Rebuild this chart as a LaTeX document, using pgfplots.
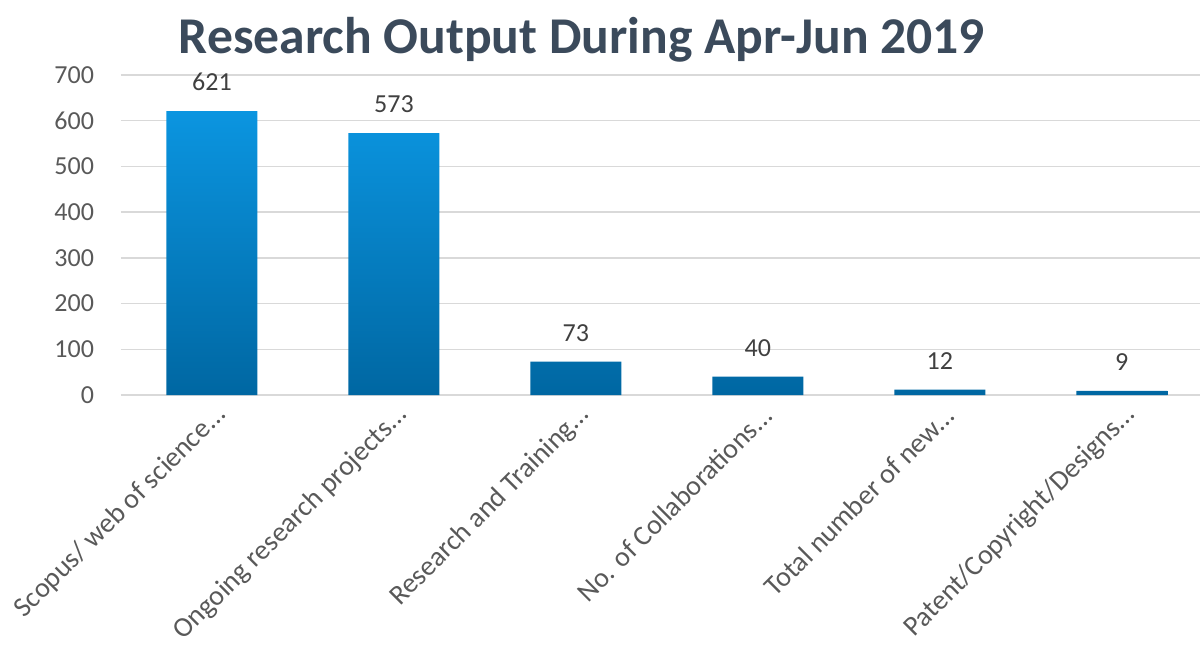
\documentclass[border=0pt]{standalone}
\usepackage{pgfplots}
\pgfplotsset{compat=1.18}
\usepackage{fontspec}
\setmainfont{Carlito}
\definecolor{titlec}{HTML}{3B4A5B}
\definecolor{txt}{HTML}{595959}
\definecolor{lbl}{HTML}{404040}
\definecolor{gridc}{HTML}{D9D9D9}
\definecolor{bartop}{HTML}{0B95E0}
\definecolor{barbot}{HTML}{0067A2}
\newcommand{\dd}{.\kern0pt.\kern0pt.}
\begin{document}
\begin{tikzpicture}
\useasboundingbox (0pt,0pt) rectangle (600pt,-326pt);
\begin{axis}[
  at={(60.5pt,-197.5pt)}, anchor=south west,
  scale only axis, width=539.5pt, height=160pt,
  xmin=-0.5, xmax=5.43, ymin=0, ymax=700,
  ytick={0,100,...,700},
  xtick={0,1,2,3,4,5},
  xticklabels={{Scopus/ web of science\dd}, {Ongoing research projects\dd}, {Research and Training\dd}, {No. of Collaborations\dd}, {Total number of new\dd}, {Patent/Copyright/Designs\dd}},
  ymajorgrids, grid style={gridc, line width=0.7pt},
  axis line style={draw=none}, major tick length=0,
  tick label style={font=\fontsize{13}{15}\selectfont, text=txt},
  /pgf/number format/assume math mode=true,
  yticklabel style={xshift=-10pt},
  xticklabel style={font=\fontsize{14}{16}\selectfont, rotate=45, anchor=east, xshift=1.5pt, yshift=-9pt},
  clip=false]
\addplot[ybar, bar width=0.5, draw=none, top color=bartop, bottom color=barbot,
  nodes near coords,
  nodes near coords style={font=\fontsize{13}{15}\selectfont, text=lbl, anchor=south, yshift=6.5pt}]
  coordinates {(0,621) (1,573) (2,73) (3,40) (4,12) (5,9)};
\end{axis}
\node[font=\fontsize{25.8}{28}\selectfont\bfseries, text=titlec] at (291pt,-20pt) {Research Output During Apr-Jun 2019};
\end{tikzpicture}
\end{document}
